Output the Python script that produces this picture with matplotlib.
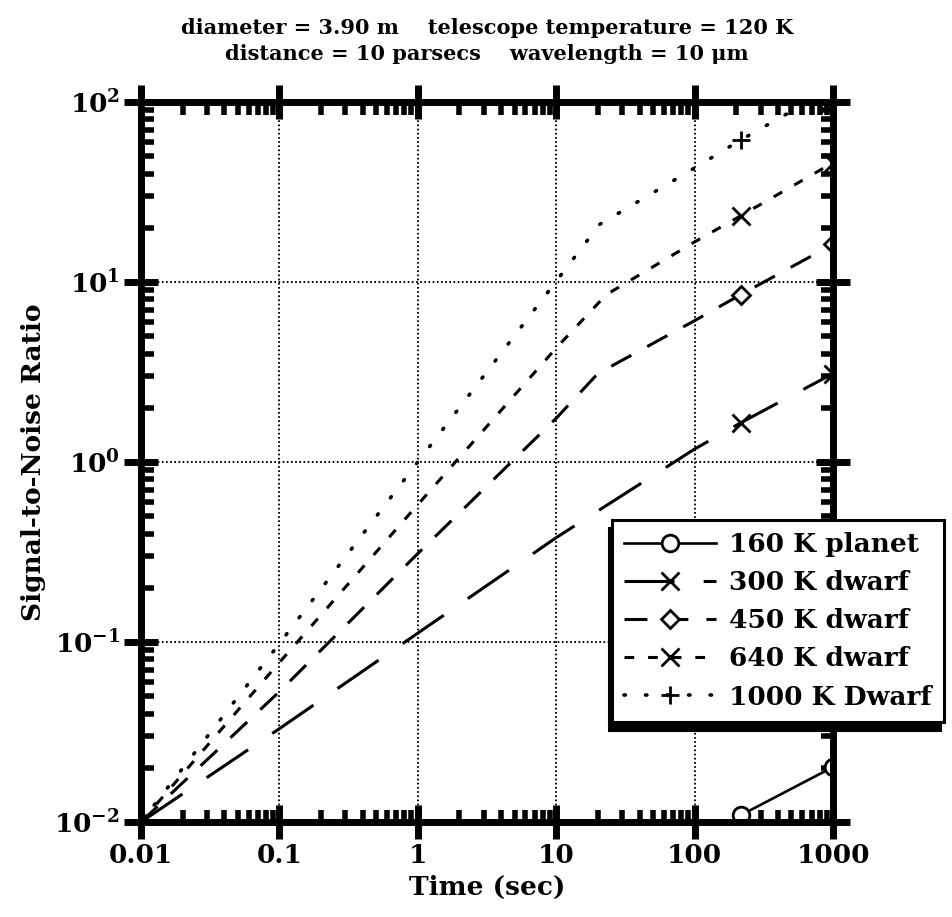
import matplotlib
matplotlib.use('Agg')
import matplotlib.pyplot as plt
from matplotlib.ticker import LogLocator, FixedLocator, FixedFormatter, NullFormatter

plt.rcParams['font.family'] = ['DejaVu Serif']
plt.rcParams['font.weight'] = 'bold'
plt.rcParams['axes.labelweight'] = 'bold'
plt.rcParams['mathtext.fontset'] = 'dejavuserif'
plt.rcParams['lines.scale_dashes'] = False

# ---------------- data ----------------
title_line1 = "diameter = 3.90 m    telescope temperature = 120 K"
title_line2 = "distance = 10 parsecs    wavelength = 10 μm"
x_label = "Time (sec)"
y_label = "Signal-to-Noise Ratio"
x_ticks = [0.01, 0.1, 1, 10, 100, 1000]
x_ticklabels = ["0.01", "0.1", "1", "10", "100", "1000"]
y_ticks = [1e-2, 1e-1, 1e0, 1e1, 1e2]
y_ticklabels = [r"$\mathbf{10^{-2}}$", r"$\mathbf{10^{-1}}$", r"$\mathbf{10^{0}}$",
                r"$\mathbf{10^{1}}$", r"$\mathbf{10^{2}}$"]

series_names = ["160 K planet", "300 K dwarf", "450 K dwarf", "640 K dwarf", "1000 K Dwarf"]
marker_times = [215, 1000]

t_planet = [215, 1000]
snr_planet = [0.0109, 0.0202]

t_300 = [0.01, 0.1, 1, 10, 100, 215, 1000]
snr_300 = [0.01, 0.033, 0.112, 0.38, 1.18, 1.65, 3.1]

t_450 = [0.01, 0.1, 1, 10, 20, 100, 215, 1000]
snr_450 = [0.01, 0.053, 0.31, 1.75, 3.1, 6.1, 8.5, 16.2]

t_640 = [0.01, 0.1, 1, 10, 23, 100, 215, 1000]
snr_640 = [0.01, 0.077, 0.58, 4.3, 8.5, 16.7, 23.3, 46]

t_1000 = [0.01, 0.1, 1, 10, 20.6, 100, 215, 1000]
snr_1000 = [0.01, 0.098, 1.0, 10.1, 20.9, 43, 61.5, 120]

# ---------------- figure ----------------
fig = plt.figure(figsize=(9.53, 9.17), dpi=100)
ax = fig.add_axes([141/953, 1 - 822/917, (833-141)/953, (822-102)/917])
ax.set_xscale('log')
ax.set_yscale('log')
ax.set_xlim(0.01, 1000)
ax.set_ylim(0.01, 100)

def marks(t):
    return [i for i, v in enumerate(t) if v in marker_times]

lw = 2.2
styles = [
    dict(t=t_planet, s=snr_planet, lw=1.9, marker='o', ms=12, dashes=None),
    dict(t=t_300, s=snr_300, lw=lw, marker='x', ms=13, dashes=(36, 21)),
    dict(t=t_450, s=snr_450, lw=lw, marker='D', ms=9, dashes=(16.5, 13)),
    dict(t=t_640, s=snr_640, lw=lw, marker='x', ms=13, dashes=(7, 10)),
    dict(t=t_1000, s=snr_1000, lw=2.6, marker='+', ms=13, dashes=(1.0, 14.5)),
]

handles = []
for name, st in zip(series_names, styles):
    kw = dict(color='black', lw=st['lw'], marker=st['marker'], ms=st['ms'],
              markevery=marks(st['t']), mfc='white', mec='black', mew=2.0,
              label=name)
    if st['dashes'] is None:
        line, = ax.plot(st['t'], st['s'], ls='-', **kw)
    else:
        line, = ax.plot(st['t'], st['s'], ls='--', dashes=st['dashes'], **kw)
        if st['marker'] == '+':
            line.set_dash_capstyle('round')
    handles.append(line)

# grid
ax.grid(True, which='major', color='black', linestyle=(0, (1.2, 1.8)), linewidth=1.4)

# ticks
ax.xaxis.set_major_locator(FixedLocator(x_ticks))
ax.xaxis.set_major_formatter(FixedFormatter(x_ticklabels))
ax.yaxis.set_major_locator(FixedLocator(y_ticks))
ax.yaxis.set_major_formatter(FixedFormatter(y_ticklabels))
ax.xaxis.set_minor_locator(LogLocator(base=10, subs=range(2, 10)))
ax.yaxis.set_minor_locator(LogLocator(base=10, subs=range(2, 10)))
ax.xaxis.set_minor_formatter(NullFormatter())
ax.yaxis.set_minor_formatter(NullFormatter())
ax.tick_params(which='major', direction='inout', length=24, width=5,
               top=True, right=True, labelsize=19, pad=3)
ax.tick_params(which='minor', direction='in', length=9, width=4,
               top=True, right=True)
for sp in ax.spines.values():
    sp.set_linewidth(5)

ax.set_xlabel(x_label, fontsize=19, fontweight='bold', labelpad=5)
ax.set_ylabel(y_label, fontsize=19, fontweight='bold', labelpad=6)

fig.text(487/953, 1 - 34/917, title_line1, ha='center', va='baseline',
         fontsize=15, fontweight='bold')
fig.text(487/953, 1 - 60/917, title_line2, ha='center', va='baseline',
         fontsize=15, fontweight='bold')

leg = ax.legend(handles=handles, loc='upper left',
                bbox_to_anchor=(612/953, 1 - 520/917), bbox_transform=fig.transFigure,
                borderaxespad=0, fontsize=19, numpoints=1, handlelength=3.5,
                handletextpad=0.5, labelspacing=0.5, borderpad=0.45, fancybox=False,
                framealpha=1, edgecolor='black',
                shadow={'ox': -2.5, 'oy': -6, 'facecolor': 'black',
                        'edgecolor': 'black', 'alpha': 1})
leg.get_frame().set_linewidth(2.2)
leg.set_zorder(10)

fig.savefig('out.png', dpi=100)
